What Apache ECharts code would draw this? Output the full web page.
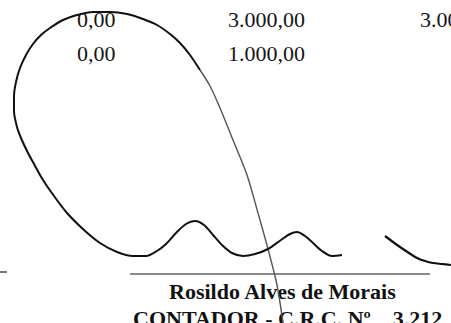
<!DOCTYPE html>
<html>
<head>
<meta charset="utf-8">
<script src="https://cdn.jsdelivr.net/npm/echarts@6/dist/echarts.min.js"></script>
<style>
  html, body { margin: 0; padding: 0; background: #fff; }
  #main { width: 451px; height: 323px; }
</style>
</head>
<body>
<div id="main"></div>
<script>
// valores do documento
const valoresLinha1 = ['0,00', '3.000,00', '3.00']
const valoresLinha2 = ['0,00', '1.000,00']
const nomeContador = 'Rosildo Alves de Morais'
const registroContador = 'CONTADOR - C.R.C. Nº    3.212'

// traços da assinatura (x, y em px da folha)
const tracoPrincipal = [
  [200, 70], [190, 55], [180, 43], [170, 34], [157, 25], [143, 19], [127, 14],
  [110, 12], [93, 12], [77, 15], [63, 20], [50, 28], [41, 35], [33, 44],
  [26, 55], [20, 68], [16, 82], [14, 96], [14, 111], [17, 127], [21, 138],
  [27, 151], [34, 164], [43, 180], [54, 196], [67, 213], [84, 230], [100, 243],
  [117, 252], [133, 256], [146, 256], [157, 251], [166, 244], [176, 233],
  [186, 224], [195, 221], [204, 225], [213, 235], [222, 245], [232, 253],
  [243, 256], [255, 254], [268, 249], [281, 240], [290, 234], [297, 232],
  [305, 236], [313, 243], [322, 251], [332, 256], [342, 255]
]
const tracoFino = [
  [200, 70], [210, 86], [220, 108], [233, 140], [247, 175],
  [258, 213], [268, 249], [277, 285], [283, 323]
]
const tracoDireita = [[385, 236], [393, 242], [400, 247], [409, 253], [417, 258], [425, 261], [433, 263], [442, 264], [451, 265]]
const linhaAssinatura = [[130, 274], [430, 274]]
const tracoEsquerda = [[0, 272], [7, 272]]

const chart = echarts.init(document.getElementById('main'), null, { renderer: 'svg' })

const fonte = '"Liberation Serif", "DejaVu Serif", serif'

function textoLinha(lista, xs, y, weight) {
  return lista.map((t, i) => ({
    type: 'text',
    left: xs[i],
    top: y,
    z: 5,
    style: { text: t, font: weight + ' 22px ' + fonte, fill: '#151515' }
  }))
}

chart.setOption({
  animation: false,
  backgroundColor: '#fff',
  grid: { left: 0, right: 0, top: 0, bottom: 0 },
  xAxis: { type: 'value', min: 0, max: 451, show: false },
  yAxis: { type: 'value', min: 0, max: 323, inverse: true, show: false },
  graphic: [
    ...textoLinha(valoresLinha1, [77, 228, 420], 8, 'normal'),
    ...textoLinha(valoresLinha2, [77, 228], 42, 'normal'),
    {
      type: 'text', left: 169, top: 280, z: 5,
      style: { text: nomeContador, font: 'bold 22px ' + fonte, fill: '#111' }
    },
    {
      type: 'text', left: 133, top: 307, z: 5,
      style: { text: registroContador, font: 'bold 22px ' + fonte, fill: '#111' }
    }
  ],
  series: [
    {
      type: 'line', data: linhaAssinatura, symbol: 'none',
      lineStyle: { color: '#666', width: 1.5 }
    },
    {
      type: 'line', data: tracoEsquerda, symbol: 'none',
      lineStyle: { color: '#444', width: 1.5 }
    },
    {
      type: 'line', data: tracoFino, symbol: 'none', smooth: 0.3, z: 6,
      lineStyle: { color: '#555', width: 1.4 }
    },
    {
      type: 'line', data: tracoPrincipal, symbol: 'none', smooth: 0.3, z: 6,
      lineStyle: { color: '#111', width: 2 }
    },
    {
      type: 'line', data: tracoDireita, symbol: 'none', smooth: 0.3, z: 6,
      lineStyle: { color: '#111', width: 2.2 }
    }
  ]
})
</script>
</body>
</html>
